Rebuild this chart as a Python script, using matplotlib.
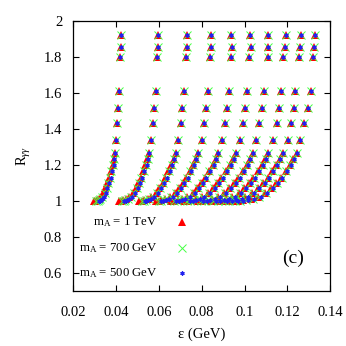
import numpy as np
import matplotlib.pyplot as plt

plt.rcParams['font.family'] = ['Liberation Serif', 'DejaVu Serif']
plt.rcParams['mathtext.fontset'] = 'custom'
plt.rcParams['mathtext.rm'] = 'Liberation Serif'
plt.rcParams['mathtext.it'] = 'Liberation Serif:italic'

# upper, well separated points (same for all three m_A values)
R_upper = [1.922, 1.857, 1.798, 1.613, 1.515, 1.435, 1.339, 1.268]
eps_upper = [
    [0.0421, 0.0596, 0.0730, 0.0842, 0.0939, 0.1026, 0.1112, 0.1193, 0.1263, 0.1330],
    [0.0421, 0.0595, 0.0729, 0.0843, 0.0940, 0.1030, 0.1112, 0.1190, 0.1260, 0.1327],
    [0.0418, 0.0591, 0.0725, 0.0838, 0.0936, 0.1021, 0.1110, 0.1182, 0.1257, 0.1319],
    [0.0415, 0.0585, 0.0716, 0.0828, 0.0926, 0.1013, 0.1092, 0.1170, 0.1238, 0.1310],
    [0.0410, 0.0579, 0.0710, 0.0819, 0.0917, 0.1003, 0.1081, 0.1160, 0.1232, 0.1299],
    [0.0406, 0.0574, 0.0704, 0.0811, 0.0908, 0.0992, 0.1070, 0.1151, 0.1219, 0.1280],
    [0.0400, 0.0563, 0.0691, 0.0800, 0.0894, 0.0979, 0.1054, 0.1132, 0.1202, 0.1260],
    [0.0395, 0.0554, 0.0679, 0.0783, 0.0878, 0.0961, 0.1039, 0.1112, 0.1179, 0.1244],
]

# lower, dense part of each curve (one row per curve)
R_lower = [1.235, 1.20, 1.165, 1.13, 1.10, 1.07, 1.045, 1.025, 1.012, 1.004, 1.001, 1.0]
eps_1tev = [
    [0.0389, 0.0383, 0.0375, 0.0367, 0.0359, 0.0350, 0.0340, 0.0329, 0.0318, 0.0309, 0.0302, 0.0295],
    [0.0546, 0.0537, 0.0526, 0.0514, 0.0503, 0.0491, 0.0478, 0.0461, 0.0446, 0.0433, 0.0424, 0.0414],
    [0.0669, 0.0658, 0.0644, 0.0630, 0.0617, 0.0602, 0.0585, 0.0565, 0.0547, 0.0531, 0.0519, 0.0508],
    [0.0771, 0.0759, 0.0743, 0.0727, 0.0711, 0.0694, 0.0675, 0.0651, 0.0630, 0.0612, 0.0599, 0.0586],
    [0.0865, 0.0851, 0.0833, 0.0815, 0.0797, 0.0778, 0.0757, 0.0730, 0.0707, 0.0687, 0.0672, 0.0657],
    [0.0947, 0.0931, 0.0912, 0.0892, 0.0873, 0.0851, 0.0828, 0.0800, 0.0774, 0.0752, 0.0735, 0.0719],
    [0.1025, 0.1011, 0.0991, 0.0970, 0.0950, 0.0928, 0.0904, 0.0874, 0.0846, 0.0821, 0.0802, 0.0783],
    [0.1098, 0.1083, 0.1063, 0.1042, 0.1021, 0.0997, 0.0972, 0.0941, 0.0912, 0.0885, 0.0863, 0.0842],
    [0.1164, 0.1149, 0.1129, 0.1108, 0.1086, 0.1061, 0.1034, 0.1003, 0.0972, 0.0942, 0.0918, 0.0895],
    [0.1228, 0.1212, 0.1192, 0.1170, 0.1148, 0.1122, 0.1095, 0.1062, 0.1030, 0.0995, 0.0970, 0.0945],
]
eps_700 = [
    [0.0390, 0.0385, 0.0378, 0.0370, 0.0363, 0.0355, 0.0346, 0.0336, 0.0326, 0.0319, 0.0313, 0.0307],
    [0.0547, 0.0539, 0.0529, 0.0517, 0.0507, 0.0496, 0.0484, 0.0468, 0.0454, 0.0443, 0.0435, 0.0426],
    [0.0670, 0.0660, 0.0647, 0.0633, 0.0621, 0.0607, 0.0591, 0.0572, 0.0555, 0.0541, 0.0530, 0.0520],
    [0.0772, 0.0761, 0.0746, 0.0730, 0.0715, 0.0699, 0.0681, 0.0658, 0.0638, 0.0622, 0.0610, 0.0598],
    [0.0866, 0.0853, 0.0836, 0.0818, 0.0801, 0.0783, 0.0763, 0.0737, 0.0715, 0.0697, 0.0683, 0.0669],
    [0.0948, 0.0933, 0.0915, 0.0895, 0.0877, 0.0856, 0.0834, 0.0807, 0.0782, 0.0762, 0.0746, 0.0731],
    [0.1026, 0.1013, 0.0994, 0.0973, 0.0954, 0.0933, 0.0910, 0.0881, 0.0854, 0.0831, 0.0813, 0.0795],
    [0.1099, 0.1085, 0.1066, 0.1045, 0.1025, 0.1002, 0.0978, 0.0948, 0.0920, 0.0895, 0.0874, 0.0854],
    [0.1165, 0.1151, 0.1132, 0.1111, 0.1090, 0.1066, 0.1040, 0.1010, 0.0980, 0.0952, 0.0929, 0.0907],
    [0.1229, 0.1214, 0.1195, 0.1173, 0.1152, 0.1127, 0.1101, 0.1069, 0.1038, 0.1005, 0.0981, 0.0957],
]
eps_500 = [
    [0.0392, 0.0388, 0.0381, 0.0374, 0.0367, 0.0359, 0.0351, 0.0342, 0.0334, 0.0328, 0.0324, 0.0320],
    [0.0549, 0.0542, 0.0532, 0.0521, 0.0511, 0.0500, 0.0489, 0.0474, 0.0462, 0.0452, 0.0446, 0.0439],
    [0.0672, 0.0663, 0.0650, 0.0637, 0.0625, 0.0611, 0.0596, 0.0578, 0.0563, 0.0550, 0.0541, 0.0533],
    [0.0774, 0.0764, 0.0749, 0.0734, 0.0719, 0.0703, 0.0686, 0.0664, 0.0646, 0.0631, 0.0621, 0.0611],
    [0.0868, 0.0856, 0.0839, 0.0822, 0.0805, 0.0787, 0.0768, 0.0743, 0.0723, 0.0706, 0.0694, 0.0682],
    [0.0950, 0.0936, 0.0918, 0.0899, 0.0881, 0.0860, 0.0839, 0.0813, 0.0790, 0.0771, 0.0757, 0.0744],
    [0.1028, 0.1016, 0.0997, 0.0977, 0.0958, 0.0937, 0.0915, 0.0887, 0.0862, 0.0840, 0.0824, 0.0808],
    [0.1101, 0.1088, 0.1069, 0.1049, 0.1029, 0.1006, 0.0983, 0.0954, 0.0928, 0.0904, 0.0885, 0.0867],
    [0.1167, 0.1154, 0.1135, 0.1115, 0.1094, 0.1070, 0.1045, 0.1016, 0.0988, 0.0961, 0.0940, 0.0920],
    [0.1231, 0.1217, 0.1198, 0.1177, 0.1156, 0.1131, 0.1106, 0.1075, 0.1046, 0.1014, 0.0992, 0.0970],
]

labels = [r'm$_\mathrm{A}$ = 1 TeV', r'm$_\mathrm{A}$ = 700 GeV', r'm$_\mathrm{A}$ = 500 GeV']


def collect(lower):
    xs, ys = [], []
    for r, row in zip(R_upper, eps_upper):
        xs += row
        ys += [r]*len(row)
    for row in lower:
        xs += row
        ys += R_lower
    return np.array(xs), np.array(ys)


fig = plt.figure(figsize=(3.46, 3.46), dpi=100)
ax = fig.add_axes([0.212, 0.159, 0.742, 0.780])

styles = [
    dict(marker='^', color='#ff0000', ms=6.0, mew=0, ls='none'),
    dict(marker='x', color='#44ff44', ms=5.8, mew=0.7, ls='none'),
    dict(marker=(6, 2, 0), color='#2222ee', ms=3.0, mew=0.9, ls='none'),
]
for lower, st in zip([eps_1tev, eps_700, eps_500], styles):
    x, y = collect(lower)
    ax.plot(x, y, **st)

# gnuplot style key: right aligned text, symbol after it
key_y = [0.883, 0.739, 0.60]
for lab, ky, st in zip(labels, key_y, styles):
    ax.text(0.0592, ky, lab, ha='right', va='center', fontsize=9.2)
    ax.plot([0.0708], [ky], **st)

ax.text(0.1228, 0.683, '(c)', ha='center', va='center', fontsize=14)

ax.set_xlim(0.02, 0.14)
ax.set_ylim(0.5, 2.0)
ax.set_xticks(np.arange(0.02, 0.141, 0.02))
ax.set_xticklabels(['0.02', '0.04', '0.06', '0.08', '0.1', '0.12', '0.14'])
ax.set_yticks(np.arange(0.6, 2.01, 0.2))
ax.set_yticklabels(['0.6', '0.8', '1', '1.2', '1.4', '1.6', '1.8', '2'])
ax.tick_params(direction='in', top=True, right=True, length=4, width=0.8,
               labelsize=10.5)
ax.tick_params(axis='x', pad=11)
ax.tick_params(axis='y', pad=8)
for s in ax.spines.values():
    s.set_linewidth(0.9)

ax.set_xlabel('ε (GeV)', fontsize=10.5, labelpad=6)
ax.set_ylabel(r'R$_{\gamma\gamma}$', fontsize=10.5, labelpad=8)

fig.savefig('out.png', dpi=100)
